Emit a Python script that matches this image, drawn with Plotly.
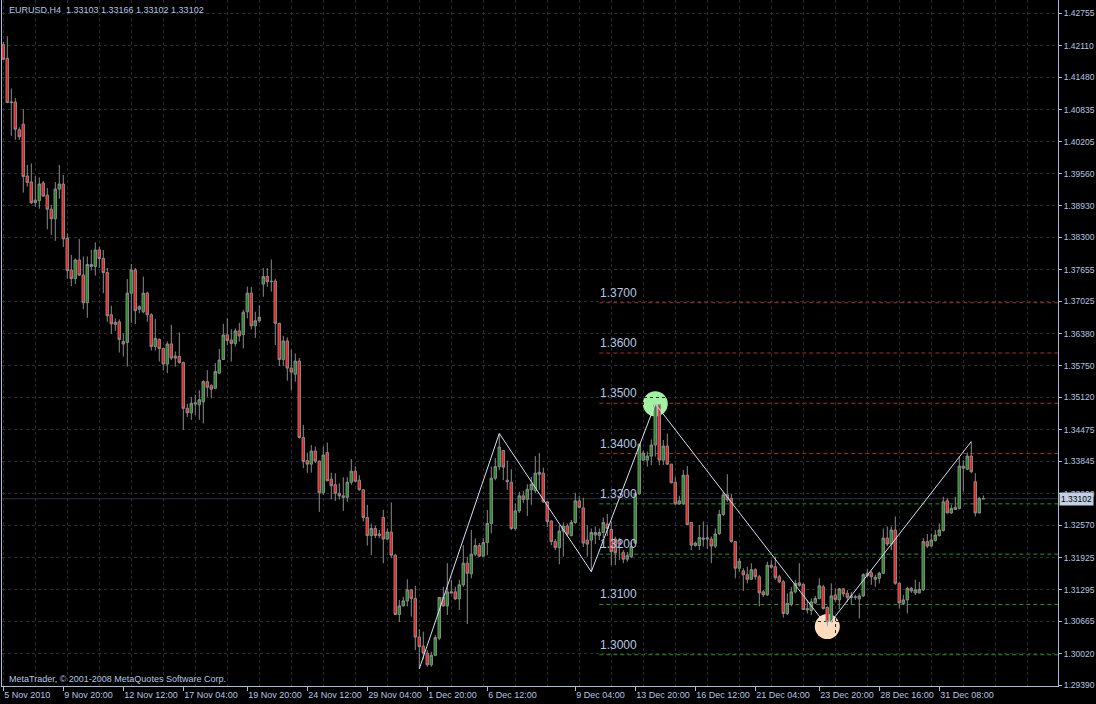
import plotly.graph_objects as go

# ---------------- data (EURUSD H4) ----------------
opens = [1.4213,1.4186,1.4098,1.4099,1.4044,1.4055,1.3952,1.3940,1.3899,1.3903,
1.3938,1.3914,1.3886,1.3867,1.3926,1.3936,1.3828,1.3765,1.3748,1.3785,
1.3755,1.3700,1.3776,1.3772,1.3805,1.3788,1.3760,1.3676,1.3661,1.3662,
1.3623,1.3621,1.3719,1.3765,1.3687,1.3682,1.3719,1.3676,1.3613,1.3627,
1.3609,1.3578,1.3618,1.3594,1.3593,1.3581,1.3490,1.3481,1.3501,1.3497,
1.3503,1.3543,1.3535,1.3530,1.3560,1.3587,1.3636,1.3626,1.3619,1.3644,
1.3637,1.3682,1.3719,1.3654,1.3664,1.3737,1.3752,1.3743,1.3743,1.3659,
1.3587,1.3624,1.3570,1.3558,1.3584,1.3432,1.3386,1.3379,1.3405,1.3385,
1.3322,1.3402,1.3349,1.3338,1.3321,1.3316,1.3313,1.3343,1.3365,1.3347,
1.3328,1.3273,1.3237,1.3251,1.3240,1.3273,1.3230,1.3244,1.3198,1.3080,
1.3097,1.3107,1.3129,1.3112,1.3035,1.3017,1.3003,1.2980,1.2999,1.3033,
1.3114,1.3097,1.3125,1.3125,1.3111,1.3139,1.3182,1.3161,1.3200,1.3217,
1.3196,1.3223,1.3261,1.3351,1.3374,1.3406,1.3347,1.3343,1.3251,1.3286,
1.3316,1.3309,1.3328,1.3326,1.3359,1.3361,1.3304,1.3266,1.3225,1.3213,
1.3246,1.3256,1.3237,1.3263,1.3306,1.3292,1.3228,1.3228,1.3238,1.3237,
1.3243,1.3260,1.3249,1.3230,1.3227,1.3203,1.3190,1.3195,1.3222,1.3320,
1.3387,1.3387,1.3395,1.3417,1.3497,1.3387,1.3415,1.3379,1.3343,1.3300,
1.3300,1.3357,1.3263,1.3217,1.3217,1.3232,1.3230,1.3230,1.3216,1.3241,
1.3279,1.3318,1.3311,1.3225,1.3172,1.3167,1.3159,1.3150,1.3169,1.3155,
1.3125,1.3119,1.3178,1.3175,1.3155,1.3145,1.3082,1.3100,1.3125,1.3143,
1.3140,1.3092,1.3088,1.3103,1.3112,1.3135,1.3094,1.3066,1.3119,1.3109,
1.3131,1.3122,1.3117,1.3114,1.3111,1.3117,1.3157,1.3163,1.3150,1.3152,
1.3162,1.3232,1.3220,1.3248,1.3142,1.3102,1.3109,1.3132,1.3123,1.3123,
1.3129,1.3225,1.3216,1.3227,1.3237,1.3247,1.3306,1.3282,1.3289,1.3291,
1.3375,1.3369,1.3395,1.3344,1.3282,1.33103]

highs = [1.4219,1.4230,1.4126,1.4107,1.4049,1.4085,1.3974,1.3977,1.3952,1.3949,
1.3942,1.3928,1.3894,1.3940,1.3974,1.3954,1.3838,1.3795,1.3788,1.3827,
1.3792,1.3792,1.3805,1.3820,1.3811,1.3805,1.3769,1.3694,1.3669,1.3667,
1.3639,1.3747,1.3777,1.3769,1.3695,1.3752,1.3722,1.3679,1.3668,1.3629,
1.3611,1.3623,1.3656,1.3603,1.3641,1.3583,1.3499,1.3513,1.3517,1.3526,
1.3546,1.3566,1.3538,1.3580,1.3608,1.3658,1.3669,1.3647,1.3649,1.3660,
1.3686,1.3732,1.3731,1.3682,1.3695,1.3769,1.3769,1.3786,1.3747,1.3660,
1.3634,1.3631,1.3607,1.3599,1.3590,1.3457,1.3402,1.3417,1.3414,1.3386,
1.3414,1.3422,1.3362,1.3361,1.3341,1.3353,1.3353,1.3389,1.3375,1.3357,
1.3329,1.3298,1.3261,1.3257,1.3248,1.3288,1.3251,1.3303,1.3200,1.3109,
1.3115,1.3150,1.3130,1.3137,1.3051,1.3046,1.3009,1.3006,1.3039,1.3115,
1.3135,1.3182,1.3149,1.3135,1.3149,1.3218,1.3195,1.3248,1.3231,1.3222,
1.3232,1.3288,1.3374,1.3391,1.3440,1.3407,1.3386,1.3369,1.3301,1.3324,
1.3326,1.3339,1.3354,1.3395,1.3401,1.3372,1.3305,1.3267,1.3230,1.3258,
1.3263,1.3261,1.3268,1.3322,1.3316,1.3312,1.3258,1.3251,1.3255,1.3251,
1.3273,1.3280,1.3265,1.3235,1.3232,1.3208,1.3204,1.3225,1.3324,1.3420,
1.3406,1.3404,1.3428,1.3499,1.3498,1.3427,1.3440,1.3379,1.3353,1.3316,
1.3367,1.3375,1.3263,1.3225,1.3258,1.3265,1.3258,1.3235,1.3251,1.3288,
1.3324,1.3359,1.3320,1.3225,1.3192,1.3172,1.3175,1.3182,1.3172,1.3159,
1.3129,1.3185,1.3188,1.3195,1.3159,1.3149,1.3122,1.3135,1.3149,1.3182,
1.3142,1.3109,1.3112,1.3117,1.3152,1.3139,1.3096,1.3142,1.3132,1.3133,
1.3132,1.3129,1.3125,1.3119,1.3122,1.3162,1.3171,1.3167,1.3159,1.3165,
1.3251,1.3255,1.3255,1.3275,1.3144,1.3119,1.3135,1.3135,1.3149,1.3145,
1.3232,1.3240,1.3241,1.3248,1.3261,1.3314,1.3311,1.3298,1.3314,1.3394,
1.3387,1.3402,1.3424,1.3361,1.3314,1.33166]

lows = [1.4183,1.4097,1.4032,1.4024,1.4024,1.3919,1.3931,1.3896,1.3891,1.3887,
1.3911,1.3846,1.3835,1.3823,1.3907,1.3811,1.3748,1.3733,1.3737,1.3753,
1.3687,1.3670,1.3764,1.3754,1.3769,1.3719,1.3662,1.3638,1.3644,1.3601,
1.3593,1.3573,1.3660,1.3658,1.3679,1.3679,1.3662,1.3605,1.3605,1.3583,
1.3565,1.3560,1.3586,1.3573,1.3579,1.3447,1.3473,1.3467,1.3477,1.3467,
1.3460,1.3513,1.3510,1.3528,1.3558,1.3586,1.3616,1.3583,1.3613,1.3623,
1.3609,1.3669,1.3647,1.3630,1.3660,1.3712,1.3732,1.3722,1.3616,1.3574,
1.3574,1.3545,1.3526,1.3543,1.3430,1.3371,1.3362,1.3362,1.3381,1.3284,
1.3318,1.3345,1.3309,1.3306,1.3309,1.3286,1.3304,1.3338,1.3343,1.3326,
1.3265,1.3217,1.3198,1.3232,1.3232,1.3182,1.3228,1.3192,1.3080,1.3065,
1.3096,1.3096,1.3076,1.3009,1.2972,1.2991,1.2976,1.2976,1.2997,1.3029,
1.3096,1.3079,1.3122,1.3109,1.3089,1.3135,1.3061,1.3152,1.3196,1.3194,
1.3195,1.3198,1.3241,1.3347,1.3367,1.3347,1.3328,1.3248,1.3247,1.3282,
1.3302,1.3276,1.3298,1.3321,1.3328,1.3302,1.3254,1.3218,1.3208,1.3180,
1.3195,1.3235,1.3235,1.3260,1.3291,1.3214,1.3195,1.3165,1.3220,1.3228,
1.3232,1.3236,1.3178,1.3178,1.3188,1.3182,1.3185,1.3192,1.3220,1.3318,
1.3385,1.3374,1.3377,1.3394,1.3377,1.3377,1.3377,1.3341,1.3298,1.3298,
1.3298,1.3258,1.3208,1.3215,1.3208,1.3215,1.3210,1.3182,1.3212,1.3238,
1.3276,1.3304,1.3223,1.3152,1.3165,1.3127,1.3142,1.3149,1.3149,1.3096,
1.3115,1.3117,1.3171,1.3149,1.3142,1.3074,1.3079,1.3096,1.3122,1.3135,
1.3089,1.3082,1.3079,1.3101,1.3110,1.3090,1.3056,1.3064,1.3105,1.3090,
1.3115,1.3105,1.3099,1.3109,1.3072,1.3115,1.3154,1.3139,1.3135,1.3142,
1.3161,1.3216,1.3208,1.3139,1.3092,1.3099,1.3082,1.3123,1.3119,1.3122,
1.3127,1.3212,1.3215,1.3225,1.3235,1.3245,1.3281,1.3280,1.3288,1.3289,
1.3324,1.3367,1.3361,1.3275,1.3281,1.33102]

closes = [1.4184,1.4098,1.4099,1.4045,1.4030,1.3951,1.3939,1.3899,1.3904,1.3936,
1.3912,1.3886,1.3867,1.3926,1.3936,1.3827,1.3764,1.3748,1.3785,1.3755,
1.3700,1.3776,1.3772,1.3805,1.3788,1.3760,1.3674,1.3658,1.3657,1.3627,
1.3618,1.3719,1.3765,1.3684,1.3692,1.3719,1.3676,1.3613,1.3629,1.3609,
1.3578,1.3618,1.3590,1.3590,1.3581,1.3490,1.3481,1.3500,1.3499,1.3507,
1.3543,1.3532,1.3528,1.3563,1.3586,1.3636,1.3625,1.3619,1.3644,1.3634,
1.3681,1.3719,1.3654,1.3664,1.3671,1.3752,1.3742,1.3742,1.3659,1.3587,
1.3624,1.3570,1.3562,1.3584,1.3432,1.3384,1.3379,1.3405,1.3385,1.3322,
1.3397,1.3346,1.3336,1.3321,1.3316,1.3313,1.3343,1.3365,1.3345,1.3328,
1.3273,1.3237,1.3251,1.3237,1.3237,1.3230,1.3244,1.3198,1.3080,1.3097,
1.3107,1.3129,1.3112,1.3035,1.3016,1.3003,1.2980,1.2999,1.3034,1.3114,
1.3097,1.3125,1.3123,1.3111,1.3139,1.3182,1.3162,1.3200,1.3217,1.3196,
1.3223,1.3261,1.3351,1.3374,1.3413,1.3373,1.3344,1.3251,1.3286,1.3316,
1.3309,1.3329,1.3339,1.3361,1.3363,1.3304,1.3265,1.3225,1.3213,1.3246,
1.3256,1.3240,1.3263,1.3306,1.3293,1.3222,1.3220,1.3243,1.3243,1.3243,
1.3263,1.3251,1.3205,1.3203,1.3220,1.3190,1.3197,1.3215,1.3320,1.3419,
1.3401,1.3395,1.3417,1.3497,1.3387,1.3415,1.3379,1.3342,1.3300,1.3306,
1.3357,1.3259,1.3218,1.3222,1.3233,1.3230,1.3232,1.3216,1.3240,1.3279,
1.3318,1.3308,1.3225,1.3172,1.3186,1.3159,1.3150,1.3169,1.3155,1.3123,
1.3119,1.3178,1.3174,1.3153,1.3145,1.3082,1.3102,1.3125,1.3142,1.3138,
1.3090,1.3089,1.3105,1.3112,1.3137,1.3092,1.3066,1.3117,1.3110,1.3131,
1.3121,1.3114,1.3114,1.3115,1.3117,1.3159,1.3162,1.3155,1.3154,1.3162,
1.3232,1.3220,1.3248,1.3142,1.3103,1.3109,1.3132,1.3127,1.3129,1.3130,
1.3225,1.3216,1.3228,1.3238,1.3248,1.3304,1.3282,1.3291,1.3293,1.3375,
1.3371,1.3395,1.3364,1.3282,1.3311,1.33102]

bar_index = list(range(len(closes)))

# time-axis labels (bar index where each label sits)
xtick_bars = [0, 15, 30, 45, 61, 76, 91, 106, 121, 143, 158, 173, 188, 204, 219, 234]
xtick_text = ["5 Nov 2010", "9 Nov 20:00", "12 Nov 12:00", "17 Nov 04:00", "19 Nov 20:00",
              "24 Nov 12:00", "29 Nov 04:00", "1 Dec 20:00", "6 Dec 12:00", "9 Dec 04:00",
              "13 Dec 20:00", "16 Dec 12:00", "21 Dec 04:00", "23 Dec 20:00",
              "28 Dec 16:00", "31 Dec 08:00"]

# price-axis labels
ytick_vals = [1.29390, 1.30020, 1.30665, 1.31295, 1.31925, 1.32570, 1.33200, 1.33845,
              1.34475, 1.35120, 1.35750, 1.36380, 1.37025, 1.37655, 1.38300, 1.38930,
              1.39560, 1.40205, 1.40835, 1.41480, 1.42110, 1.42755]

# round-number levels drawn from mid-chart
levels_upper = [1.3700, 1.3600, 1.3500, 1.3400]
levels_lower = [1.3300, 1.3200, 1.3100, 1.3000]
level_start_bar = 149

# zigzag pivots: (bar, 'H' high / 'L' low)
zz_bars = [104, 124, 147, 163, 206, 242]
zz_kind = ['L', 'H', 'L', 'H', 'L', 'H']
peak_marker_bar = 163
trough_marker_bar = 206

last_price = 1.33102
title_text = "EURUSD,H4  1.33103 1.33166 1.33102 1.33102"
copyright_text = "MetaTrader, © 2001-2008 MetaQuotes Software Corp."

# ---------------- style ----------------
BG = "#000000"
GRID = "#262b34"
FG = "#b4c6e2"
AXIS = "#a9bcd8"
WICK = "#8a8a8a"
UP = "#1f8f1f"
DOWN = "#ff1a1a"
RED_LVL = "#b22a2a"
GREEN_LVL = "#1f9a1f"
FONT = "Liberation Sans"

X_MIN, X_MAX = -0.325, 263.675
Y_MIN, Y_MAX = 1.29378, 1.43020

fig = go.Figure()

fig.add_trace(go.Candlestick(
    x=bar_index, open=opens, high=highs, low=lows, close=closes,
    increasing=dict(line=dict(color=WICK, width=1), fillcolor=UP),
    decreasing=dict(line=dict(color=WICK, width=1), fillcolor=DOWN),
    whiskerwidth=0, showlegend=False, hoverinfo="skip",
))

zz_y = [highs[b] if k == 'H' else lows[b] for b, k in zip(zz_bars, zz_kind)]
fig.add_trace(go.Scatter(
    x=zz_bars, y=zz_y, mode="lines",
    line=dict(color="#d4e0f4", width=1), showlegend=False, hoverinfo="skip",
))

shapes = []
# last price line
shapes.append(dict(type="line", xref="paper", x0=0, x1=1, yref="y", y0=last_price, y1=last_price,
                   line=dict(color="#2a3246", width=1), layer="below"))
for lv in levels_upper:
    shapes.append(dict(type="line", xref="x", x0=level_start_bar, x1=X_MAX, yref="y", y0=lv, y1=lv,
                       line=dict(color=RED_LVL, width=1, dash="4px,3px"), layer="below"))
for lv in levels_lower:
    shapes.append(dict(type="line", xref="x", x0=level_start_bar, x1=X_MAX, yref="y", y0=lv, y1=lv,
                       line=dict(color=GREEN_LVL, width=1, dash="4px,3px"), layer="below"))
# pivot markers
for b, price, col in [(peak_marker_bar, highs[peak_marker_bar], "#a0f2a0"),
                      (trough_marker_bar, lows[trough_marker_bar], "#ffdcbc")]:
    shapes.append(dict(type="circle", xref="x", yref="y", xsizemode="pixel", ysizemode="pixel",
                       xanchor=b, yanchor=price, x0=-12.5, x1=12.5, y0=-12.5, y1=12.5,
                       fillcolor=col, line=dict(width=0), layer="below"))

annotations = []
for lv in levels_upper + levels_lower:
    annotations.append(dict(x=level_start_bar, y=lv, xref="x", yref="y", text=f"{lv:.4f}",
                            showarrow=False, xanchor="left", yanchor="middle", yshift=10, xshift=-1,
                            font=dict(family=FONT, size=12, color=FG)))
annotations.append(dict(x=0.0047, y=0.9854, xref="paper", yref="paper", text=title_text,
                        showarrow=False, xanchor="left", yanchor="middle",
                        font=dict(family=FONT, size=9, color=FG)))
annotations.append(dict(x=0.0047, y=0.0105, xref="paper", yref="paper", text=copyright_text,
                        showarrow=False, xanchor="left", yanchor="middle",
                        font=dict(family=FONT, size=9, color=FG)))
annotations.append(dict(x=1, y=last_price, xref="paper", yref="y", text=f"{last_price:.5f}",
                        showarrow=False, xanchor="left", yanchor="middle", xshift=1,
                        bgcolor="#c4d0e6", borderpad=1,
                        font=dict(family=FONT, size=8.5, color="#000000")))

fig.update_layout(
    width=1096, height=704,
    margin=dict(l=2, r=38, t=0, b=18, autoexpand=False),
    paper_bgcolor=BG, plot_bgcolor=BG,
    showlegend=False,
    shapes=shapes, annotations=annotations,
    boxgap=0.1,
    xaxis=dict(
        range=[X_MIN, X_MAX], rangeslider=dict(visible=False), automargin=False,
        tickmode="array", tickvals=xtick_bars, ticktext=xtick_text,
        ticklabelposition="outside right", tickangle=0, ticklabeloverflow="allow",
        ticks="outside", ticklen=4, tickcolor=AXIS,
        tickfont=dict(family=FONT, size=9, color=FG),
        showgrid=False, zeroline=False,
        showline=True, linecolor=AXIS, linewidth=1,
        minor=dict(tickmode="linear", tick0=0, dtick=8, showgrid=True,
                   gridcolor=GRID, griddash="3px,3px", gridwidth=1),
        fixedrange=True,
    ),
    yaxis=dict(
        range=[Y_MIN, Y_MAX], side="right", automargin=False,
        tickmode="array", tickvals=ytick_vals, ticktext=[f"{v:.5f}" for v in ytick_vals],
        ticks="outside", ticklen=3, tickcolor=AXIS, ticklabeloverflow="allow",
        tickfont=dict(family=FONT, size=8.5, color=FG),
        showgrid=True, gridcolor=GRID, griddash="3px,3px", gridwidth=1,
        zeroline=False, showline=True, mirror=True, linecolor=AXIS, linewidth=1,
        fixedrange=True,
    ),
)

fig.write_html(
    "out.html",
    config={"displayModeBar": False, "staticPlot": True},
    post_script="document.body.style.margin='0';document.body.style.padding='0';"
                "document.body.style.background='#000';document.body.style.overflow='hidden';",
)
